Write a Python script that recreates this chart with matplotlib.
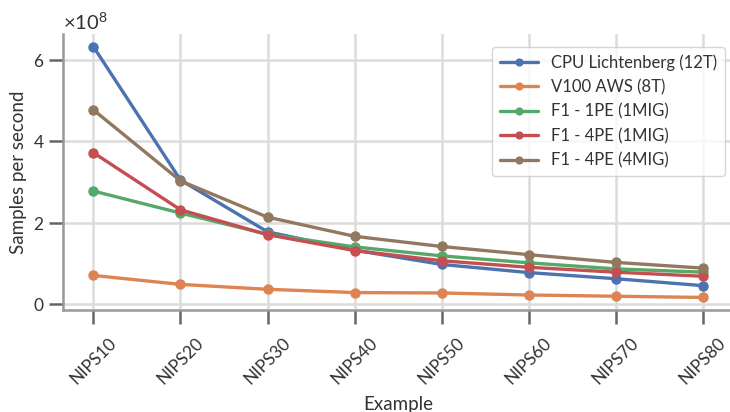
import matplotlib

matplotlib.use("Agg")
import matplotlib.pyplot as plt
import seaborn as sns
from matplotlib.ticker import ScalarFormatter

examples = ["NIPS10", "NIPS20", "NIPS30", "NIPS40", "NIPS50", "NIPS60", "NIPS70", "NIPS80"]
series_names = [
    "CPU Lichtenberg (12T)",
    "V100 AWS (8T)",
    "F1 - 1PE (1MIG)",
    "F1 - 4PE (1MIG)",
    "F1 - 4PE (4MIG)",
]
cpu_lichtenberg = [6.32e8, 3.05e8, 1.78e8, 1.33e8, 0.98e8, 0.78e8, 0.63e8, 0.46e8]
v100_aws = [0.71e8, 0.49e8, 0.37e8, 0.29e8, 0.28e8, 0.23e8, 0.20e8, 0.17e8]
f1_1pe_1mig = [2.78e8, 2.24e8, 1.72e8, 1.41e8, 1.19e8, 1.02e8, 0.87e8, 0.79e8]
f1_4pe_1mig = [3.72e8, 2.32e8, 1.71e8, 1.32e8, 1.07e8, 0.91e8, 0.79e8, 0.69e8]
f1_4pe_4mig = [4.77e8, 3.03e8, 2.14e8, 1.67e8, 1.42e8, 1.22e8, 1.03e8, 0.89e8]

sns.set_theme(style="ticks")
plt.rcParams["font.family"] = ["Lato", "DejaVu Sans"]
plt.rcParams["mathtext.fontset"] = "custom"
plt.rcParams["mathtext.rm"] = "Lato"

figure = plt.figure(figsize=(7.3, 4.12), dpi=100)
axis = figure.add_axes([0.0863, 0.2476, 0.918, 0.6694])
palette = sns.color_palette("deep")
colors = [palette[0], palette[1], palette[2], palette[3], palette[5]]
all_series = [cpu_lichtenberg, v100_aws, f1_1pe_1mig, f1_4pe_1mig, f1_4pe_4mig]
for name, values, color in zip(series_names, all_series, colors):
    axis.plot(examples, values, marker="o", markersize=6.5, linewidth=2.4,
              color=color, label=name)

axis.grid(True, color="#dcdcdc", linewidth=1.8)
axis.set_axisbelow(True)
for side in ("top", "right"):
    axis.spines[side].set_visible(False)
for side in ("left", "bottom"):
    axis.spines[side].set_color("#999999")
    axis.spines[side].set_linewidth(1.8)
axis.tick_params(axis="both", colors="#666666", width=1.8, length=10, labelsize=12.5,
                 labelcolor="#333333")
axis.tick_params(axis="x", pad=8)

formatter = ScalarFormatter(useMathText=True)
axis.yaxis.set_major_formatter(formatter)
axis.set_yticks([0, 2e8, 4e8, 6e8])
axis.yaxis.get_offset_text().set_fontsize(14.5)
axis.yaxis.get_offset_text().set_color("#333333")
plt.setp(axis.get_xticklabels(), rotation=45, ha="center", rotation_mode="default")
axis.set_xlabel("Example", fontsize=13.5, color="#333333", labelpad=6)
axis.set_ylabel("Samples per second", fontsize=13.5, color="#333333", labelpad=4)

legend = axis.legend(loc="upper right", bbox_to_anchor=(1.0, 0.985), fontsize=12,
                     frameon=True, handlelength=2.3, borderpad=0.45, labelspacing=0.5,
                     markerscale=0.75)
legend.get_frame().set_edgecolor("#cccccc")
for text in legend.get_texts():
    text.set_color("#333333")

figure.savefig("out.png", dpi=100)
